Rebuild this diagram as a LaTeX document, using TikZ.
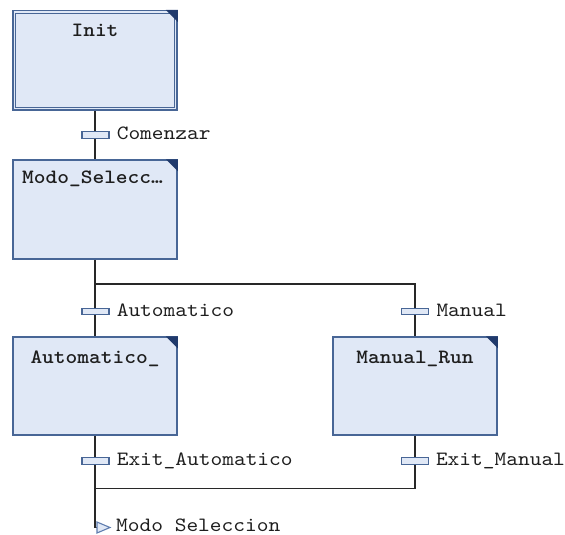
\documentclass[tikz,border=0pt]{standalone}
\usepackage{fontspec}
% slab typewriter face, widened a little
\setmonofont{lmmono10}[Extension=.otf, UprightFont=*-regular,
  BoldFont=lmmonolt10-bold, FakeStretch=1.1]

\definecolor{stepfill}{RGB}{224,232,246}
\definecolor{stepedge}{RGB}{72,102,150}
\definecolor{cornerblue}{RGB}{32,58,108}
\definecolor{wire}{RGB}{40,40,40}
\definecolor{ink}{RGB}{30,30,30}
\definecolor{jumpedge}{RGB}{95,125,175}

\tikzset{
  stepbox/.style={rectangle, draw=stepedge, fill=stepfill, line width=1.5pt,
    minimum width=164pt, minimum height=99pt, inner sep=0pt},
  transbar/.style={rectangle, draw=stepedge, fill=stepfill, line width=1.2pt,
    minimum width=27pt, minimum height=6.5pt, inner sep=0pt},
  wirestyle/.style={draw=wire, line width=1.5pt},
  steptext/.style={font=\fontsize{20.3}{22}\selectfont\ttfamily\bfseries,
    text=ink, inner sep=0pt},
  translabel/.style={font=\fontsize{20.3}{22}\selectfont\ttfamily,
    text=ink, inner sep=0pt, anchor=base west},
  corner/.style={fill=cornerblue},
}

% corner flag on a step box
\newcommand{\stepflag}[1]{%
  \fill[corner] (#1.north east) -- ++(-12pt,0pt) -- ++(12pt,-12pt) -- cycle;}

\begin{document}
\begin{tikzpicture}[x=1pt, y=-1pt]
\useasboundingbox (0,0) rectangle (565,535);

% ---- steps ----
\node[stepbox, minimum height=99.3pt] (init) at (95,60.4) {};
\draw[stepedge, line width=1.2pt]
  ([shift={(3.6pt,-3.6pt)}]init.north west) rectangle ([shift={(-3.6pt,3.6pt)}]init.south east);
\stepflag{init}
\node[steptext, anchor=base] (initlbl) at (95,36.5) {Init};

\node[stepbox] (modo) at (95,209.5) {};
\stepflag{modo}
\node[steptext, anchor=base west] (modolbl) at (22,183.5) {Modo\_Selecc…};

\node[stepbox, minimum height=98pt] (auto) at (95,386) {};
\stepflag{auto}
\node[steptext, anchor=base] (autolbl) at (95,363) {Automatico\_};

\node[stepbox, minimum height=98pt] (manual) at (415,386) {};
\stepflag{manual}
\node[steptext, anchor=base] (manuallbl) at (415,363) {Manual\_Run};

% ---- connection points ----
\coordinate (fork) at (95,284);
\coordinate (forkR) at (415,284);
\coordinate (join) at (95,488.3);
\coordinate (joinR) at (415,488.3);
\coordinate (jump) at (95,527.5);

% ---- transitions ----
\node[transbar] (t1) at (95.5,135) {};
\node[transbar] (t2) at (95.5,311.6) {};
\node[transbar] (t3) at (415.2,311.6) {};
\node[transbar] (t4) at (95.5,461) {};
\node[transbar] (t5) at (415.2,461) {};

% ---- wires ----
\draw[wirestyle] (init.south) -- (t1.north -| init.south);
\draw[wirestyle] (t1.south -| init.south) -- (modo.north);
\draw[wirestyle] (modo.south) -- (fork) -- (t2.north -| fork);
\draw[wirestyle] (fork) -- (forkR) -- (t3.north -| forkR);
\draw[wirestyle] (t2.south -| fork) -- (auto.north);
\draw[wirestyle] (t3.south -| forkR) -- (manual.north);
\draw[wirestyle] (auto.south) -- (t4.north -| auto.south);
\draw[wirestyle] (manual.south) -- (t5.north -| manual.south);
\draw[wirestyle] (t4.south -| join) -- (join) -- (jump) -- ([xshift=2pt]jump);
\draw[wirestyle] (t5.south -| joinR) -- (joinR) -- (join);

% jump marker
\draw[jumpedge, fill=stepfill, line width=1.1pt, line join=miter]
  ([shift={(2pt,5.5pt)}]jump) -- ([shift={(2pt,-5.5pt)}]jump) -- ([shift={(15pt,0pt)}]jump) -- cycle;

% ---- transition labels ----
\node[translabel, xshift=7pt, yshift=-4.5pt] (l1) at (t1.east) {Comenzar};
\node[translabel, xshift=7pt, yshift=-4.5pt] (l2) at (t2.east) {Automatico};
\node[translabel, xshift=7pt, yshift=-4.5pt] (l3) at (t3.east) {Manual};
\node[translabel, xshift=7pt, yshift=-4.8pt] (l4) at (t4.east) {Exit\_Automatico};
\node[translabel, xshift=6.5pt, yshift=-4.8pt] (l5) at (t5.east) {Exit\_Manual};
\node[translabel] (jumplbl) at (116,531.5) {Modo Seleccion};

\end{tikzpicture}
\end{document}
